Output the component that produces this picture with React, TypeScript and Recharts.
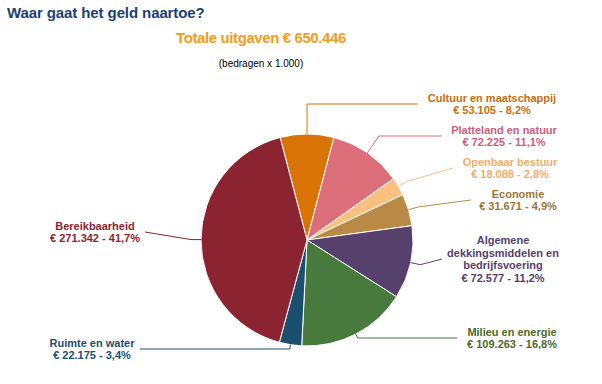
import { PieChart, Pie, Cell } from "recharts";

const categories = [
  ["Cultuur en maatschappij"],
  ["Platteland en natuur"],
  ["Openbaar bestuur"],
  ["Economie"],
  ["Algemene", "dekkingsmiddelen en", "bedrijfsvoering"],
  ["Milieu en energie"],
  ["Ruimte en water"],
  ["Bereikbaarheid"],
];
const amounts = [53105, 72225, 18088, 31671, 72577, 109263, 22175, 271342];
const sliceColors = ["#d97306", "#dc6e7a", "#f9c07f", "#b98a45", "#56406c", "#477a3c", "#1a4f6e", "#8b2331"];
const textColors = ["#c96c0c", "#c9607a", "#eeae6c", "#9c7536", "#56406c", "#4b6a2a", "#1a4f6e", "#8b2331"];

// label placement: y of the horizontal connector, where the connector ends, centre of the text
const labelLayout = [
  { y: 104, lineX: 418, tx: 492 },
  { y: 136, lineX: 442, tx: 504 },
  { y: 168, lineX: 453, tx: 510 },
  { y: 200, lineX: 471, tx: 518 },
  { y: 259, lineX: 442, tx: 503 },
  { y: 338, lineX: 457, tx: 512 },
  { y: 349, lineX: 140, tx: 92 },
  { y: 232, lineX: 145, tx: 95 },
];

const total = amounts.reduce((a, b) => a + b, 0);
const fmt = (n: number) => String(n).replace(/\B(?=(\d{3})+(?!\d))/g, ".");
const pct = (n: number) => ((n / total) * 100).toFixed(1).replace(".", ",");

const data = categories.map((c, i) => ({ name: c.join(" "), value: amounts[i] }));

const RAD = Math.PI / 180;
const FONT = "'Liberation Sans', Arial, sans-serif";

function renderLabel(props: any) {
  const { cx, cy, midAngle, outerRadius, index } = props;
  const lay = labelLayout[index];
  const dx = Math.cos(-midAngle * RAD);
  const dy = Math.sin(-midAngle * RAD);
  const sx = cx + outerRadius * dx;
  const sy = cy + outerRadius * dy;
  let t = Math.abs(dy) > 0.01 ? (lay.y - sy) / dy : -1;
  if (t < 0 || t > 30) t = 10;
  const ex = sx + t * dx;
  const ey = sy + t * dy;
  const lines = [...categories[index], `€ ${fmt(amounts[index])} - ${pct(amounts[index])}%`];
  const lh = 12.8;
  const first = lay.y - ((lines.length - 1) * lh) / 2 + 4;
  return (
    <g key={index}>
      <polyline
        points={`${sx},${sy} ${ex},${ey} ${lay.lineX},${lay.y}`}
        fill="none"
        stroke={sliceColors[index]}
        strokeWidth={1}
      />
      {lines.map((l, j) => (
        <text
          key={j}
          x={lay.tx}
          y={first + j * lh}
          textAnchor="middle"
          fill={textColors[index]}
          style={{ fontFamily: FONT, fontSize: 11, fontWeight: "bold" }}
        >
          {l}
        </text>
      ))}
    </g>
  );
}

export default function App() {
  const start = 90 + ((amounts[0] / total) * 360) / 2;
  return (
    <div style={{ position: "absolute", left: 0, top: 0, width: 602, height: 384, background: "#fff", fontFamily: FONT }}>
      <div style={{ position: "absolute", left: 7, top: 4, fontSize: 15, fontWeight: "bold", color: "#1b3f73", letterSpacing: -0.1 }}>
        Waar gaat het geld naartoe?
      </div>
      <div style={{ position: "absolute", left: 0, width: 522, top: 29, textAlign: "center", fontSize: 15, fontWeight: "bold", color: "#f59b1c", letterSpacing: -0.4 }}>
        Totale uitgaven € {fmt(total)}
      </div>
      <div style={{ position: "absolute", left: 0, width: 522, top: 58, textAlign: "center", fontSize: 10, color: "#000" }}>
        (bedragen x 1.000)
      </div>
      <PieChart width={602} height={384} style={{ position: "absolute", left: 0, top: 0 }}>
        <Pie
          data={data}
          dataKey="value"
          nameKey="name"
          cx={302}
          cy={235}
          outerRadius={106}
          startAngle={start}
          endAngle={start - 360}
          stroke="#fff"
          strokeWidth={1}
          label={renderLabel}
          labelLine={false}
          isAnimationActive={false}
        >
          {data.map((d, i) => (
            <Cell key={d.name} fill={sliceColors[i]} />
          ))}
        </Pie>
      </PieChart>
    </div>
  );
}
